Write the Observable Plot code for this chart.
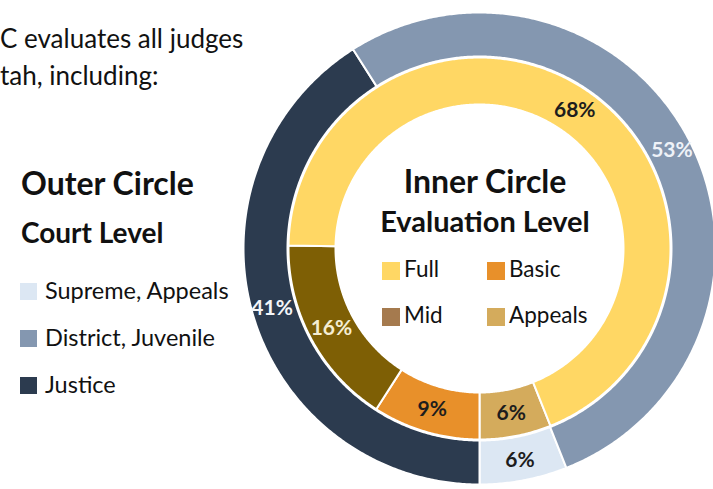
<!DOCTYPE html>
<html>
<head>
<meta charset="utf-8">
<script src="https://cdn.jsdelivr.net/npm/d3@7"></script>
<script src="https://cdn.jsdelivr.net/npm/@observablehq/plot@0.6"></script>
<style>
  html, body { margin: 0; padding: 0; background: #fff; }
  #wrap { position: relative; width: 713px; height: 489px; overflow: hidden; font-family: Lato, "Open Sans", sans-serif; color: #111; }
  #chart { position: absolute; left: 0; top: 0; }
  .abs { position: absolute; white-space: nowrap; line-height: 1; }
  .sw { position: absolute; }
  .intro { font-size: 26px; }
  .h1 { font-weight: 700; font-size: 32px; }
  .h2 { font-weight: 700; font-size: 28px; }
  .h2b { font-weight: 700; font-size: 29px; }
  .lg { font-size: 23.5px; }
  .lgi { font-size: 22.5px; }
</style>
</head>
<body>
<div id="wrap">
  <div id="chart"></div>
</div>
<script>
// ---- data ----
const outerCategories = ["Supreme, Appeals", "Justice", "District, Juvenile"];
const outerValues = [6, 41, 53];
const innerCategories = ["Appeals", "Basic", "Mid", "Full"];
const innerValues = [6, 9, 16, 68];
const introLines = ["C evaluates all judges", "tah, including:"];
const outerTitle = "Outer Circle";
const outerSubtitle = "Court Level";
const outerLegend = ["Supreme, Appeals", "District, Juvenile", "Justice"];
const innerTitle = "Inner Circle";
const innerSubtitle = "Evaluation Level";
const innerLegend = ["Full", "Basic", "Mid", "Appeals"];

// ---- styles ----
const colorMap = {
  "Supreme, Appeals": "#DCE7F3",
  "District, Juvenile": "#8497B0",
  "Justice": "#2C3B4F",
  "Full": "#FFD764",
  "Basic": "#E8902A",
  "Mid": "#7E5F05",
  "Appeals": "#D4AB5C"
};
const legendSwatch = { ...colorMap, "Mid": "#A57A4E" };
const labelColor = {
  "Supreme, Appeals": "#1d1d1d",
  "District, Juvenile": "#EEF2F8",
  "Justice": "#F4F6F9",
  "Full": "#1d1d1d",
  "Basic": "#1d1d1d",
  "Mid": "#F5EDD2",
  "Appeals": "#1d1d1d"
};

const W = 713, H = 489;
const CX = 479, CY = 248;           // pixel centre of the donut
const rings = {
  outer: { r0: 192, r1: 236, rl: 216 },
  inner: { r0: 144, r1: 191, rl: 168 }
};

function ringSlices(cats, vals, ring) {
  const total = d3.sum(vals);
  // rotate so that the first slice ends at 6 o'clock
  const start = Math.PI - (vals[0] / total) * 2 * Math.PI;
  const arcs = d3.pie().sort(null).startAngle(start).endAngle(start + 2 * Math.PI)(vals);
  const pts = [], labels = [];
  arcs.forEach((a, i) => {
    const cat = cats[i];
    const n = Math.max(4, Math.ceil((a.endAngle - a.startAngle) / 0.008));
    for (let k = 0; k <= n; k++) {
      const t = a.startAngle + (a.endAngle - a.startAngle) * k / n;
      pts.push({ cat, x: ring.r1 * Math.sin(t), y: -ring.r1 * Math.cos(t) });
    }
    for (let k = n; k >= 0; k--) {
      const t = a.startAngle + (a.endAngle - a.startAngle) * k / n;
      pts.push({ cat, x: ring.r0 * Math.sin(t), y: -ring.r0 * Math.cos(t) });
    }
    const m = (a.startAngle + a.endAngle) / 2;
    labels.push({ cat, text: vals[i] + "%", x: ring.rl * Math.sin(m), y: -ring.rl * Math.cos(m) });
  });
  return { pts, labels };
}

const outer = ringSlices(outerCategories, outerValues, rings.outer);
const inner = ringSlices(innerCategories, innerValues, rings.inner);
const allCats = [...outerCategories, ...innerCategories];

const plot = Plot.plot({
  width: W,
  height: H,
  margin: 0,
  style: { background: "transparent", fontFamily: "Lato, sans-serif" },
  x: { domain: [-CX, W - CX], range: [0, W], axis: null },
  y: { domain: [-CY, H - CY], range: [0, H], axis: null },
  color: { domain: allCats, range: allCats.map(c => colorMap[c]) },
  marks: [
    Plot.line(outer.pts, { x: "x", y: "y", z: "cat", fill: "cat", stroke: "#fff", strokeWidth: 2, curve: "linear-closed" }),
    Plot.line(inner.pts, { x: "x", y: "y", z: "cat", fill: "cat", stroke: "#fff", strokeWidth: 2, curve: "linear-closed" }),
    Plot.text([...outer.labels, ...inner.labels], {
      x: "x", y: "y", text: "text",
      fill: d => labelColor[d.cat],
      fontSize: 21, fontWeight: "bold"
    })
  ]
});
document.getElementById("chart").appendChild(plot);

// ---- HTML text & legends ----
const wrap = document.getElementById("wrap");
function add(cls, text, left, top, extra = {}) {
  const d = document.createElement("div");
  d.className = "abs " + cls;
  d.textContent = text;
  d.style.left = left + "px";
  d.style.top = top + "px";
  Object.assign(d.style, extra);
  wrap.appendChild(d);
  return d;
}
function swatch(color, left, top, size) {
  const s = document.createElement("div");
  s.className = "sw";
  s.style.background = color;
  s.style.left = left + "px";
  s.style.top = top + "px";
  s.style.width = size + "px";
  s.style.height = size + "px";
  wrap.appendChild(s);
}
add("intro", introLines[0], 0, 25);
add("intro", introLines[1], 0, 62);
add("h1", outerTitle, 21, 167);
add("h2", outerSubtitle, 21, 218);
outerLegend.forEach((c, i) => {
  const top = 283 + i * 47;
  swatch(legendSwatch[c], 20, top, 17);
  add("lg", c, 45, top - 4);
});
// inner title centred on donut
add("h1", innerTitle, CX + 6 - 200, 165, { width: "400px", textAlign: "center" });
add("h2b", innerSubtitle, CX + 6 - 200, 206, { width: "400px", textAlign: "center" });
innerLegend.forEach((c, i) => {
  const col = i % 2, row = Math.floor(i / 2);
  const left = 382 + col * 105, top = 262 + row * 46;
  swatch(legendSwatch[c], left, top, 18);
  add("lgi", c, left + 22, top - 4);
});
</script>
</body>
</html>
